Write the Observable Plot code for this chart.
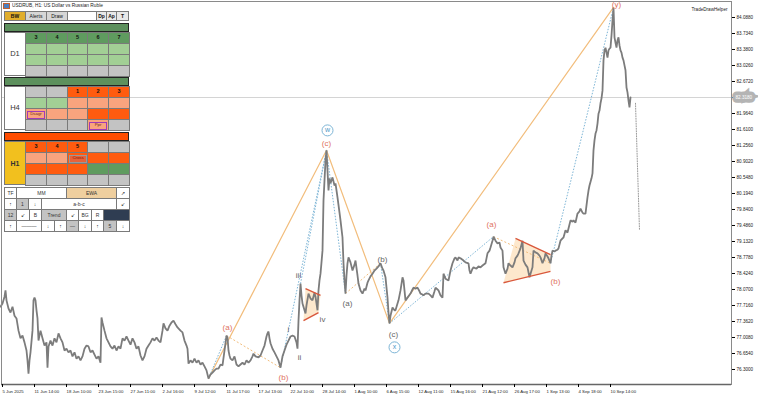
<!DOCTYPE html>
<html><head><meta charset="utf-8">
<script src="https://cdn.jsdelivr.net/npm/d3@7"></script>
<script src="https://cdn.jsdelivr.net/npm/@observablehq/plot@0.6"></script>
<style>
html,body{margin:0;padding:0;background:#fff;}
#wrap{position:relative;width:758px;height:398px;overflow:hidden;background:#fff;font-family:'Liberation Sans',Arial,sans-serif;}
#chart{position:absolute;left:0;top:0;}
.c{position:absolute;box-sizing:border-box;display:flex;align-items:center;justify-content:center;color:#111;white-space:nowrap;overflow:hidden;line-height:1;}
</style></head>
<body><div id="wrap"><div id="chart"></div></div>
<script>
// ---- price series (H1 close, bar index) ----
const bars = [0,2,4,5,6,8,10,12,14,16,18,20,22,24,26,27,28,29,30,32,33,34,35,36,37,38,40,42,44,46,47,48,50,52,54,56,58,60,62,64,66,68,70,72,74,76,78,80,82,84,86,88,90,92,94,96,98,100,101,102,104,106,108,110,112,114,116,118,120,122,124,126,128,130,132,134,136,138,140,142,144,146,148,150,152,154,156,158,160,162,163,165,167,169,171,173,175,177,180,182,184,186,187,188,190,192,194,196,198,200,202,204,206,208,210,212,214,216,218,220,222,224,226,227,228,229,230,232,234,236,238,240,242,244,246,248,250,
252,253,255,258,260,262,264,266,267,268,269,270,272,274,276,278,280,282,284,286,288,290,292,294,296,297,298,299,300,301,302,304,305,306,308,310,312,314,315,317,318,319,320,321,322,
323,324,325,326,327,328,329,330,332,334,335,337,339,340,342,343,344,345,346,347,348,350,352,354,355,357,358,360,362,364,365,367,368,370,372,374,376,378,380,382,383,385,386,387,388,389,390,392,394,395,397,398,400,402,403,404,405,407,410,412,413,415,417,419,420,422,423,425,428,430,432,434,435,437,438,440,442,443,445,448,450,452,454,455,457,458,460,463,465,468,469,470,472,473,476,478,480,482,485,486,487,489,490,492,493,495,497,499,500,
502,503,505,507,508,510,512,514,515,517,518,520,522,523,525,527,529,531,532,533,535,537,539,540,542,544,545,547,548,550,551,552,554,555,557,558,
560,562,563,565,567,568,570,572,573,575,577,579,580,582,583,585,586,587,588,589,591,592,593,594,595,596,597,598,599,600,601,602,603,604,605,606,607,608,609,610,611,612,613,614,615,616,617,618,619,620,621,622,623,624,625,626,627,628,629,630];
const closes = [77.69,77.76,77.91,78.05,77.83,77.65,77.56,77.69,77.49,77.43,77.16,76.99,77.05,76.90,76.72,76.50,76.21,76.50,76.68,77.16,77.83,77.89,77.83,77.61,77.43,76.94,77.16,76.99,76.83,76.90,76.34,76.81,76.94,76.83,76.99,76.90,77.10,76.99,76.90,76.72,76.76,76.68,76.72,76.59,76.68,76.54,76.59,76.50,76.59,76.76,76.83,76.81,76.68,76.72,76.63,76.54,76.59,76.45,77.45,77.34,77.16,76.99,76.90,76.81,76.76,76.83,76.72,76.81,76.76,76.99,76.94,77.03,76.94,76.85,76.99,76.90,76.76,76.81,76.61,76.50,76.59,76.76,76.83,76.90,76.99,76.94,77.01,76.94,76.90,77.16,77.32,77.21,77.16,77.27,77.34,77.38,77.30,77.23,77.16,77.12,76.94,76.83,76.76,76.43,76.50,76.45,76.54,76.45,76.50,76.41,76.45,76.37,76.28,76.10,76.19,76.23,76.28,76.32,76.32,76.41,76.39,76.72,77.05,77.01,76.72,76.61,76.54,76.50,76.59,76.41,76.37,76.41,76.45,76.41,76.50,76.45,76.50,
76.59,76.65,76.59,76.57,76.61,76.72,76.83,77.03,77.10,77.14,76.99,76.88,76.76,76.68,76.59,76.50,76.34,76.59,76.72,76.85,76.94,77.03,77.05,77.03,76.90,76.76,77.38,77.83,78.20,77.94,77.76,77.61,77.54,77.72,77.98,77.87,77.83,78.00,77.91,77.61,78.05,78.27,78.42,78.67,78.93,
80.04,80.48,80.92,81.15,80.70,80.26,80.53,80.42,80.55,80.37,80.42,80.11,79.77,79.60,79.22,78.65,78.27,77.98,78.38,78.65,78.78,78.67,78.49,78.62,78.71,78.38,78.20,78.05,77.98,78.09,78.05,78.22,78.27,78.36,78.42,78.49,78.53,78.58,78.65,78.53,78.49,78.34,78.11,77.89,77.56,77.32,77.49,77.67,77.61,77.61,77.76,77.83,78.05,78.34,78.27,78.05,77.83,77.89,77.98,78.07,78.11,78.09,78.11,78.03,77.98,77.96,77.94,77.98,77.98,77.94,77.89,78.03,78.11,78.07,78.05,77.94,77.89,78.42,78.31,78.27,78.49,78.65,78.76,78.78,78.71,78.78,78.76,78.71,78.67,78.65,78.49,78.42,78.53,78.56,78.53,78.58,78.56,78.60,78.65,78.76,78.87,78.93,79.00,79.15,79.24,79.15,79.09,79.11,79.00,
78.93,78.56,78.42,78.53,78.65,78.60,78.56,78.67,78.76,78.82,78.87,78.98,79.15,78.71,78.62,78.56,78.34,78.49,78.56,78.93,78.89,78.87,78.82,78.78,78.65,78.76,78.87,78.80,78.76,78.65,78.82,78.93,78.91,78.93,78.95,78.98,
79.15,79.20,79.22,79.38,79.33,79.42,79.60,79.57,79.60,79.55,79.75,79.80,79.86,79.77,79.75,79.75,79.93,80.11,80.26,80.37,80.53,80.64,81.15,81.37,81.52,81.59,81.74,81.96,82.03,82.19,82.30,82.47,83.14,83.36,83.42,83.31,83.20,83.36,83.40,83.42,83.69,84.02,84.31,83.65,83.53,83.42,83.58,83.65,83.47,83.36,83.31,83.20,83.14,83.03,82.92,82.54,82.43,82.25,82.10,82.32];

// projection (dotted) after last bar
const projBars = [635, 639];
const projPrices = [82.19, 79.38];

const currentPrice = 82.318;
const currentLabel = "82.3180";

// ---- wave pivots ----
const pivotNames  = ["start","a1","b1","iii","w","a2","b2","x","a3","b3","y"];
const pivotBars   = [208,226,280,300,326,345,380,389,493,550,613];
const pivotPrices = [76.10,77.05,76.34,78.20,81.15,77.98,78.65,77.32,79.24,78.65,84.31];
const mainWave = ["start","w","x","y"];
const blueLinks = [["start","a1"],["b1","w"],["iii","w"],["w","a2"],["b2","x"],["x","a3"],["b3","y"]];
const orangeLinks = [["a1","b1"],["a2","b2"],["a3","b3"]];

// triangles: upper line start/end, lower line start/end
const triUpperBars = [[305,320],[515,550]];
const triUpperPrices = [[78.09,77.94],[79.20,78.84]];
const triLowerBars = [[303,318],[503,550]];
const triLowerPrices = [[77.38,77.56],[78.22,78.47]];

// ---- labels ----
const redLabels = ["(a)","(b)","(c)","(a)","(b)","(y)"];
const redBars   = [227,283,326,491,555,616];
const redPrices = [77.23,76.12,81.30,79.51,78.25,84.37];
const greyLabels = ["i","ii","iii","iv","(a)","(b)","(c)"];
const greyBars   = [288,299,298,322,347,382,393];
const greyPrices = [77.18,76.57,78.38,77.41,77.76,78.73,77.07];
const circleLabels = ["w","x"];
const circleBars = [327,394];
const circlePrices = [81.59,76.79];

// ---- axes ----
const xTickBars = [1,33,65,97,129,161,193,225,257,289,321,353,385,417,449,481,513,545,577,609];
const xTickLabels = ["5 Jun 2025","11 Jun 14:00","18 Jun 10:00","23 Jun 15:00","27 Jun 11:00","2 Jul 16:00","9 Jul 12:00","11 Jul 17:00","17 Jul 13:00","22 Jul 10:00","28 Jul 14:00","1 Aug 10:00","6 Aug 15:00","12 Aug 11:00","15 Aug 16:00","21 Aug 12:00","26 Aug 17:00","1 Sep 13:00","4 Sep 18:00","10 Sep 14:00"];
const yTicks = [76.300,76.654,77.008,77.362,77.716,78.070,78.424,78.778,79.132,79.486,79.840,80.194,80.548,80.902,81.256,81.610,81.964,82.318,82.672,83.026,83.380,83.734,84.088];

// ---- build ----
const series = bars.map((b,i)=>({bar:b, close:closes[i]}));
const proj = projBars.map((b,i)=>({bar:b, close:projPrices[i]}));
const piv = new Map(pivotNames.map((n,i)=>[n,{bar:pivotBars[i], price:pivotPrices[i]}]));
const main = mainWave.map(n=>piv.get(n));
const mkLinks = L => L.map(([a,b])=>({x1:piv.get(a).bar,y1:piv.get(a).price,x2:piv.get(b).bar,y2:piv.get(b).price}));
const tris = triUpperBars.map((ub,i)=>({
  up:{x1:ub[0],y1:triUpperPrices[i][0],x2:ub[1],y2:triUpperPrices[i][1]},
  lo:{x1:triLowerBars[i][0],y1:triLowerPrices[i][0],x2:triLowerBars[i][1],y2:triLowerPrices[i][1]}
}));
const triPoly = tris.flatMap((t,i)=>[
  {g:i,bar:t.up.x1,price:t.up.y1},{g:i,bar:t.up.x2,price:t.up.y2},
  {g:i,bar:t.lo.x2,price:t.lo.y2},{g:i,bar:t.lo.x1,price:t.lo.y1},{g:i,bar:t.up.x1,price:t.up.y1}]);
const triLines = tris.flatMap(t=>[t.up,t.lo]);
const lab = (T,B,P)=>T.map((t,i)=>({t,bar:B[i],price:P[i]}));
const xLabelMap = new Map(xTickBars.map((b,i)=>[b,xTickLabels[i]]));

const orange = "#f2bd7c", blue = "#7db5d6", red = "#e0735f";
const chart = Plot.plot({
  width: 758, height: 398,
  marginTop: 1, marginBottom: 14, marginLeft: 1, marginRight: 27,
  x: {domain: [1, 731], axis: null},
  y: {domain: [75.968, 84.442], axis: null},
  style: {fontFamily: "'Liberation Sans', Arial, sans-serif", background: "#fff"},
  marks: [
    Plot.ruleY([currentPrice], {stroke: "#d4d4d4", strokeWidth: 1}),
    Plot.line(triPoly, {x:"bar", y:"price", z:"g", fill:"#fde4c4", fillOpacity:0.85, stroke:"none"}),
    Plot.line(main, {x:"bar", y:"price", stroke: orange, strokeWidth: 1.2}),
    Plot.link(mkLinks(orangeLinks), {x1:"x1",y1:"y1",x2:"x2",y2:"y2", stroke: orange, strokeWidth: 1, strokeDasharray: "2,2"}),
    Plot.link(mkLinks(blueLinks), {x1:"x1",y1:"y1",x2:"x2",y2:"y2", stroke: blue, strokeWidth: 1, strokeDasharray: "1.5,1.5"}),
    Plot.line(series, {x:"bar", y:"close", stroke:"#7c7c7c", strokeWidth:1.8, strokeLinejoin:"miter"}),
    Plot.line(proj, {x:"bar", y:"close", stroke:"#9a9a9a", strokeWidth:1, strokeDasharray:"1,1.5"}),
    Plot.link(triLines, {x1:"x1",y1:"y1",x2:"x2",y2:"y2", stroke:"#d9573b", strokeWidth:1.4}),
    Plot.text(lab(redLabels,redBars,redPrices), {x:"bar", y:"price", text:"t", fill:red, fontSize:8}),
    Plot.text(lab(greyLabels,greyBars,greyPrices), {x:"bar", y:"price", text:"t", fill:"#666", fontSize:8}),
    Plot.dot(lab(circleLabels,circleBars,circlePrices), {x:"bar", y:"price", r:5.5, stroke:blue, strokeWidth:1, fill:"white"}),
    Plot.text(lab(circleLabels,circleBars,circlePrices), {x:"bar", y:"price", text:"t", fill:"#4e98c8", fontSize:7, dy:-0.5}),
    Plot.frame({stroke:"#8a8a8a"}),
    Plot.ruleY([75.968], {stroke:"#666", strokeWidth:1.5}),
    Plot.axisX(xTickBars, {tickSize:3, tickPadding:2, textAnchor:"start", dx:1, fontSize:4.3, fill:"#222", tickFormat: d=>xLabelMap.get(d)}),
    Plot.axisY(yTicks, {anchor:"right", tickSize:3, tickPadding:2, fontSize:4.6, fill:"#222", tickFormat: d=>d.toFixed(4)}),
    Plot.text([currentPrice], {y: d=>d, frameAnchor:"right", dx:4, textAnchor:"start", text:()=>currentLabel, fontSize:4.6, fill:"#fff", stroke:"#b4b4b4", strokeWidth:7, strokeLinejoin:"miter", paintOrder:"stroke"}),
    Plot.text(["TradeDrawHelper"], {frameAnchor:"top-right", dx:-4, dy:6, text:d=>d, fontSize:4.6, fill:"#222"}),
  ]
});
document.getElementById("chart").appendChild(chart);

// ---- overlay panel (indicator widget) ----
const wrap = document.getElementById("wrap");
function cell(x,y,w,h,bg,text,o={}){
  const d=document.createElement("div"); d.className="c";
  Object.assign(d.style,{left:x+"px",top:y+"px",width:w+"px",height:h+"px",background:bg,
    fontSize:(o.fs||5)+"px",fontWeight:o.bold?"bold":"normal",color:o.color||"#111",
    border:o.border||"1px solid #7a7a7a"});
  d.textContent=text||""; wrap.appendChild(d); return d;
}
const titleText = "USDRUB, H1: US Dollar vs Russian Ruble";
cell(3,3,7,6,"#4c7fbf","",{border:"1px solid #c06030"});
const tt=cell(12,2,120,8,"transparent",titleText,{fs:4.8,border:"none",color:"#222"}); tt.style.justifyContent="flex-start";

const colors = {G:"#5f9b5f",L:"#a2cf95",S:"#f9a47e",O:"#ff5b0f",X:"#c3c3c3",W:"#ffffff",Y:"#f2c01e",T:"#efcf9f",N:"#2f3d52"};
const btnLabels = ["BW","Alerts","Draw","","Dp","Ap","T"];
const btnX = [4,25,46,67,96,106,116,128];
const btnBg = ["#e1ae2c","#d6d6d6","#d6d6d6","#ffffff","#e8e8e8","#e8e8e8","#e8e8e8"];
btnLabels.forEach((t,i)=>cell(btnX[i],11,btnX[i+1]-btnX[i]+1,10,btnBg[i],t,{fs:5,bold:i===0||i>3}));

const colX = [4,25,46,67,87,108,129];
const d1Rows = [["G|3","G|4","G|5","G|6","G|7"],["L","L","L","L","L"],["L","L","L","L","L"],["X","X","X","X","X"]];
const h4Rows = [["X","X","O|1","O|2","O|3"],["L","L","S","S","S"],["S|Dsagr|P","S","S","O","O"],["X","X","X","S|Ppr|P","X"]];
const h1Rows = [["O|3","O|4","O|5","X","X"],["S","S","O|Cross|C","O","O"],["O","O","O","G","G"],["X","X","X","X","X"]];
function block(top,label,rows,labelBg,labelBold,headerBg){
  cell(4,top-9,125,9,headerBg,"",{border:"1px solid #222"});
  cell(4,top,22,44,labelBg,label,{fs:labelBold?7:7.5,bold:labelBold,color:"#333"});
  rows.forEach((r,ri)=>r.forEach((s,ci)=>{
    const [c,t,f]=s.split("|");
    const d=cell(colX[ci+1],top+ri*11,colX[ci+2]-colX[ci+1]+1,12,colors[c],"",{});
    if(t){
      if(f==="P"||f==="C"){
        const inner=cell(1,1.5,18,8,f==="C"?"#e8623a":colors[c],t,{fs:4.3,color:f==="C"?"#7a1a00":"#6a2a10",border:f==="P"?"1.5px solid #a03ab8":"1px solid #999"});
        d.appendChild(inner); inner.style.left="1px"; inner.style.top="1.5px";
      } else { d.textContent=t; d.style.fontSize="5.5px"; d.style.fontWeight="bold"; }
    }
  }));
}
block(32,"D1",d1Rows,"#fff",false,"#5d905d");
block(86,"H4",h4Rows,"#fff",false,"#5d905d");
block(141,"H1",h1Rows,colors.Y,true,"#ff4d00");

// controls
const ctlRows = [
  {y:187,cells:[[4,16,"TF","W"],[16,66,"MM","W"],[66,116,"EWA","T"],[116,129,"↗","W"]]},
  {y:198,cells:[[4,16,"↑","W"],[16,28,"1","X"],[28,41,"↓","W"],[41,116,"a-b-c","W"],[116,129,"↙","W"]]},
  {y:209,cells:[[4,16,"12","X"],[16,29,"↙","W"],[29,41,"B","W"],[41,66,"Trend","X"],[66,78,"↙","W"],[78,91,"BG","W"],[91,103,"R","W"],[103,129,"","N"]]},
  {y:220,cells:[[4,16,"↑","W"],[16,41,"———","W"],[41,54,"↓","W"],[54,66,"↑","W"],[66,78,"—","X"],[78,91,"↓","W"],[91,103,"↑","W"],[103,116,"5","X"],[116,129,"↓","W"]]}
];
ctlRows.forEach(r=>r.cells.forEach(([x1,x2,t,c])=>cell(x1,r.y,x2-x1+1,12,colors[c],t,{fs:5,color:"#333"})));
</script></body></html>
